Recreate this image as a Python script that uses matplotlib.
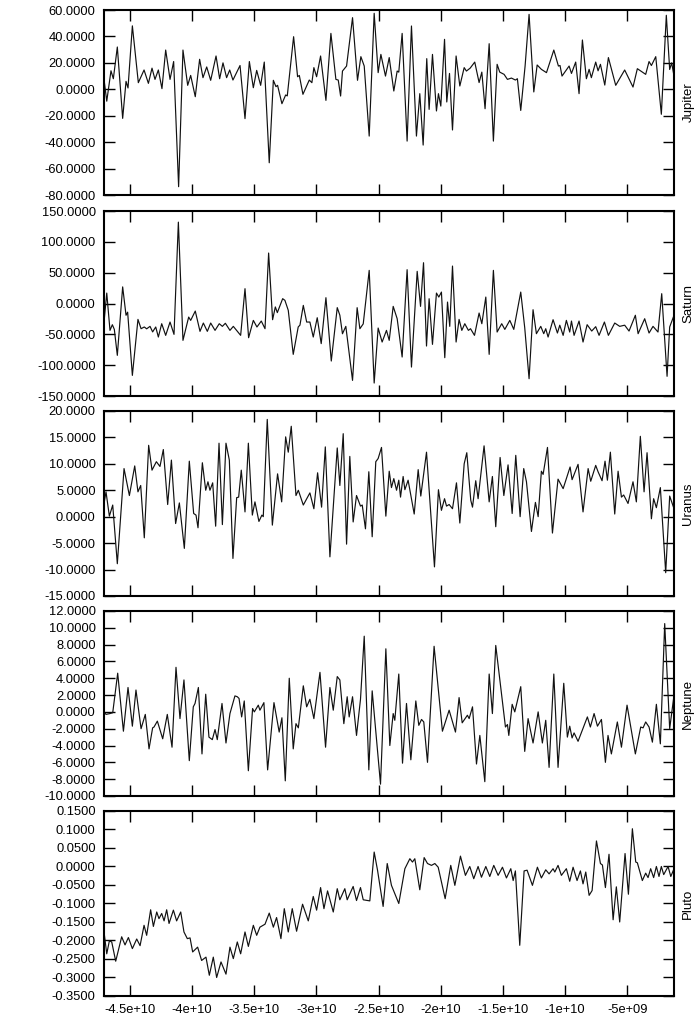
import matplotlib
matplotlib.use('Agg')
import matplotlib.pyplot as plt
import numpy as np

plt.rcParams['font.family'] = ['Liberation Sans', 'DejaVu Sans']

# x values in units of 1e9
jupiter_x = [-47.09, -46.87, -46.53, -46.34, -46.02, -45.59, -45.32, -45.16, -44.81, -44.33,
             -43.87, -43.52, -43.23, -42.99, -42.72, -42.43, -42.13, -41.78, -41.49, -41.09,
             -40.74, -40.36, -40.12, -39.75, -39.40, -39.13, -38.83, -38.51, -38.08, -37.79,
             -37.52, -37.23, -36.98, -36.72, -36.15, -35.75, -35.40, -35.08, -34.81, -34.49,
             -34.20, -33.80, -33.47, -33.26, -33.13, -32.78, -32.48, -32.35, -31.84, -31.52,
             -31.38, -31.09, -30.58, -30.37, -30.21, -29.99, -29.67, -29.24, -28.84, -28.44,
             -28.25, -28.06, -27.91, -27.58, -27.10, -26.70, -26.43, -26.16, -25.76, -25.36,
             -25.04, -24.82, -24.45, -24.15, -23.78, -23.51, -23.38, -23.11, -22.71, -22.36,
             -21.96, -21.69, -21.42, -21.13, -20.94, -20.67, -20.35, -20.19, -20.00, -19.70,
             -19.52, -19.30, -19.06, -18.77, -18.47, -18.12, -17.94, -17.64, -17.27, -16.92,
             -16.70, -16.44, -16.11, -15.77, -15.47, -15.26, -14.91, -14.64, -14.32, -14.00,
             -13.84, -13.57, -13.22, -12.90, -12.52, -12.25, -11.91, -11.50, -10.91, -10.54,
             -10.41, -10.25, -9.68, -9.49, -9.15, -8.88, -8.61, -8.29, -8.07, -7.89,
             -7.54, -7.35, -7.16, -6.81, -6.52, -5.93, -5.21, -4.54, -4.19, -3.52,
             -3.25, -3.06, -2.71, -2.26, -1.86, -1.59, -1.43, -1.24]
jupiter_y = [7.5, -9, 14, 8, 32, -22, 6, 1, 48, 5,
             14.6, 4.5, 16, 7.5, 14.6, 0.5, 29.7, 7.5, 21, -73.7,
             29.7, 3, 10.5, -5.6, 22.7, 8.8, 16.9, 6.8, 25.2, 8,
             20, 8.8, 14.6, 7, 18, -22.2, 21, 1.2, 14.3, 3,
             20.6, -55.6, 6.8, 2, 3, -10.9, -4.3, -5, 39.8, 9.5,
             10.5, -3.8, 7, 5, 16.4, 9.5, 25.2, -8.4, 42.3, 7.5,
             7, -5.1, 13.8, 17.6, 54.2, 6.8, 24.7, 17.6, -35.4, 57.5,
             12.6, 26.4, 10, 24, -1.3, 13.8, 13, 42.3, -39.2, 47.9,
             -35.4, -3.3, -42.2, 23.2, -15.2, 26.4, -16.4, -3.3, -12.7, 37.8,
             -9.6, 12, -30.8, 25.2, 2.5, 16.4, 13.8, 16, 20.6, 5.1,
             13, -14.7, 34.5, -39.2, 18.9, 13, 11.3, 7.5, 8.5, 7,
             8, -16, 17.6, 56.7, -2, 18.4, 15.1, 12.6, 29.7, 17.6,
             18, 10, 17.6, 12, 20.6, -3.3, 37.3, 8, 15.1, 8.8,
             20.6, 14, 18.9, 3.2, 24, 3, 14.6, 1.7, 15.6, 11.3,
             21, 18, 24.7, -18.9, 56, 15, 20, 10]

saturn_x = [-47.09, -46.87, -46.61, -46.42, -46.26, -46.02, -45.59, -45.32, -45.19, -44.81,
            -44.36, -44.11, -43.85, -43.66, -43.39, -43.18, -42.93, -42.72, -42.45, -42.13,
            -41.78, -41.46, -41.11, -40.74, -40.28, -40.12, -39.75, -39.37, -39.10, -38.78,
            -38.51, -38.16, -37.82, -37.57, -37.33, -36.96, -36.69, -36.10, -35.75, -35.46,
            -35.08, -34.79, -34.44, -34.14, -33.85, -33.53, -33.31, -33.15, -32.72, -32.54,
            -32.27, -31.87, -31.47, -31.33, -31.06, -30.79, -30.53, -30.26, -29.94, -29.62,
            -29.24, -28.81, -28.33, -28.12, -27.91, -27.64, -27.10, -26.73, -26.51, -26.24,
            -25.76, -25.36, -25.04, -24.72, -24.37, -24.15, -23.83, -23.51, -23.11, -22.71,
            -22.36, -21.90, -21.63, -21.39, -21.15, -20.94, -20.67, -20.35, -20.16, -19.95,
            -19.68, -19.46, -19.28, -19.06, -18.77, -18.53, -18.31, -18.07, -17.78, -17.61,
            -17.29, -16.92, -16.70, -16.38, -16.11, -15.77, -15.47, -15.10, -14.85, -14.45,
            -14.13, -13.57, -13.25, -12.90, -12.58, -12.31, -11.96, -11.72, -11.56, -11.37,
            -10.97, -10.62, -10.43, -10.16, -9.90, -9.63, -9.49, -9.28, -8.88, -8.56,
            -8.23, -7.86, -7.54, -7.27, -6.84, -6.52, -6.01, -5.61, -5.21, -4.86,
            -4.35, -4.13, -3.60, -3.25, -2.93, -2.53, -2.23, -1.80, -1.59, -1.24]
saturn_y = [-30, 17, -43.5, -34.3, -42, -84, 27, -19, -14, -116.5,
            -25.7, -40.8, -38, -41, -37, -46, -38, -54.3, -32.7, -51.6,
            -30, -50, 132, -59.7, -21.9, -27.3, -12.2, -45.1, -31.6, -45.1,
            -31.6, -43.5, -32.7, -37, -32, -43.5, -37, -51.6, 24.1, -55.4,
            -27.3, -38, -28.4, -40.8, 81.9, -26.2, -5.5, -14.7, 7.9, 5.2,
            -11, -82.4, -38, -35, -3, -30, -30, -54.3, -23, -65,
            9.5, -93.2, -6.6, -19, -49, -37, -124.6, -6.7, -40.8, -33,
            53.8, -128.9, -39.7, -62.4, -43.5, -59.7, -4.6, -24.6, -86.7, 54.9,
            -103, 52.2, -4.6, 66.2, -68.9, 7.8, -66.2, 17, 10.5, 18.6,
            -87.8, 2.4, -37, 60.8, -62.4, -25.7, -43.5, -32.7, -43.5, -40.8,
            -51.6, -15.4, -32.7, 10.5, -82.4, 53.8, -46.2, -32.7, -41.9, -27.3,
            -41.9, 18.6, -39.1, -121.9, -10, -48.9, -37, -48.9, -40.8, -54.3,
            -26.2, -47.8, -35.1, -51.6, -27.3, -46.2, -28.4, -51.6, -28.4, -62.4,
            -34.3, -44.6, -37.5, -51.6, -30, -51.6, -31.6, -37, -35.1, -44.6,
            -19, -48.9, -24.6, -47.8, -37, -46.2, 16, -118, -38, -19]

uranus_x = [-47.09, -46.93, -46.66, -46.39, -46.02, -45.48, -45.05, -44.62, -44.36, -44.14,
            -43.85, -43.50, -43.23, -42.88, -42.59, -42.32, -41.97, -41.67, -41.33, -41.03,
            -40.63, -40.23, -39.88, -39.69, -39.53, -39.18, -38.91, -38.73, -38.57, -38.35,
            -38.11, -37.84, -37.57, -37.28, -37.01, -36.72, -36.42, -36.26, -36.05, -35.75,
            -35.48, -35.16, -34.95, -34.63, -34.39, -34.28, -33.96, -33.55, -33.13, -32.80,
            -32.48, -32.27, -32.03, -31.65, -31.46, -31.06, -30.53, -30.21, -29.91, -29.59,
            -29.29, -28.92, -28.33, -28.12, -27.85, -27.58, -27.32, -27.05, -26.78, -26.46,
            -26.32, -26.06, -25.79, -25.52, -25.23, -25.04, -24.77, -24.42, -24.15, -23.97,
            -23.78, -23.56, -23.38, -23.24, -23.03, -22.89, -22.63, -22.14, -21.82, -21.61,
            -21.15, -20.51, -20.19, -19.95, -19.70, -19.54, -19.33, -19.06, -18.74, -18.47,
            -18.12, -17.91, -17.59, -17.45, -17.19, -17.00, -16.52, -16.11, -15.85, -15.58,
            -15.23, -14.93, -14.59, -14.26, -13.97, -13.62, -13.33, -13.11, -12.71, -12.39,
            -12.17, -11.91, -11.77, -11.42, -11.02, -10.57, -10.16, -9.60, -9.44, -8.96,
            -8.56, -8.15, -7.94, -7.54, -7.35, -7.03, -6.79, -6.60, -6.36, -6.01,
            -5.74, -5.47, -5.29, -4.94, -4.54, -4.27, -3.95, -3.65, -3.41, -3.06,
            -2.88, -2.66, -2.34, -1.91, -1.59, -1.24]
uranus_y = [2.5, 4.7, 0.1, 2.2, -8.9, 9.1, 4.0, 9.6, 4.7, 5.9,
            -4.0, 13.5, 8.8, 10.4, 9.5, 12.7, 2.3, 10.7, -1.3, 2.6,
            -6.0, 10.5, 0.6, 0.3, -2.1, 10.2, 5.0, 6.6, 5.0, 6.4,
            -1.8, 13.9, -1.5, 13.9, 10.7, -7.9, 3.6, 3.7, 8.8, 0.9,
            13.9, 0.3, 2.8, -0.9, 0.3, 0.0, 18.4, -1.6, 8.1, 2.8,
            15.1, 12.2, 17.1, 4.0, 5.0, 2.2, 4.5, 1.5, 8.3, 1.8,
            13.2, -7.6, 13.0, 5.9, 15.7, -5.2, 11.4, -1.0, 4.0, 2.0,
            2.2, -2.3, 8.5, -3.8, 10.4, 11.0, 13.1, 0.1, 8.6, 5.5,
            7.2, 5.0, 6.9, 3.7, 7.6, 5.1, 6.9, 0.5, 8.9, 3.9,
            12.2, -9.5, 5.1, 1.2, 3.4, 2.0, 2.3, 1.5, 6.4, -1.2,
            10.0, 12.1, 3.1, 1.8, 6.8, 3.4, 13.4, 2.8, 7.6, -1.9,
            11.2, 4.0, 9.8, 0.6, 11.6, 0.0, 9.1, 6.6, -2.8, 2.7,
            0.0, 8.6, 8.0, 13.1, -3.1, 7.1, 5.3, 9.4, 7.0, 9.9,
            0.9, 9.1, 6.7, 9.7, 8.5, 6.8, 10.5, 6.9, 12.2, 0.5,
            8.6, 3.7, 4.1, 2.5, 6.6, 2.8, 15.2, 4.7, 12.1, -0.4,
            3.4, 1.7, 5.5, -10.6, 3.9, 1.5]

neptune_x = [-47.09, -46.93, -46.61, -46.39, -45.99, -45.53, -45.16, -44.81, -44.52, -44.11,
             -43.77, -43.47, -43.18, -43.07, -42.80, -42.37, -42.00, -41.62, -41.30, -40.98,
             -40.66, -40.23, -39.91, -39.77, -39.50, -39.21, -38.91, -38.65, -38.38, -38.16,
             -37.98, -37.60, -37.28, -36.96, -36.56, -36.37, -36.23, -36.02, -35.81, -35.48,
             -35.14, -35.00, -34.68, -34.55, -34.23, -33.93, -33.42, -33.00, -32.78, -32.51,
             -32.19, -31.87, -31.65, -31.46, -31.06, -30.79, -30.53, -30.21, -29.72, -29.27,
             -28.92, -28.65, -28.33, -28.12, -27.80, -27.53, -27.37, -27.10, -26.78, -26.46,
             -26.16, -25.79, -25.52, -24.85, -24.42, -24.10, -23.83, -23.70, -23.38, -23.08,
             -22.76, -22.41, -22.01, -21.77, -21.55, -21.37, -21.07, -20.54, -19.87, -19.33,
             -18.82, -18.53, -18.28, -17.86, -17.72, -17.45, -17.13, -16.86, -16.46, -16.11,
             -15.85, -15.58, -14.80, -14.64, -14.53, -14.26, -14.05, -13.57, -13.25, -12.98,
             -12.58, -12.17, -11.83, -11.56, -11.29, -10.91, -10.57, -10.11, -9.82, -9.63,
             -9.44, -9.28, -8.96, -8.21, -7.97, -7.67, -7.40, -7.08, -6.76, -6.55,
             -6.28, -5.80, -5.47, -5.02, -4.35, -3.92, -3.73, -3.52, -3.25, -2.98,
             -2.66, -2.34, -1.99, -1.59, -1.24]
neptune_y = [0, -0.3, -0.2, -0.1, 4.6, -2.3, 2.9, -1.7, 2.6, -2.0,
             -0.3, -4.4, -1.9, -1.8, -1.1, -3.2, -0.3, -4.2, 5.3, -0.8,
             3.8, -5.8, 0.6, 1.0, 2.9, -5.0, 2.1, -3.0, -3.3, -2.1,
             -3.3, 1.0, -3.7, -0.2, 1.9, 1.8, 1.6, -0.6, 1.3, -7.0,
             0.4, 0, 0.8, 0.2, 1.1, -6.9, 1.1, -2.4, -0.7, -8.2,
             4.0, -4.4, -1.4, -1.9, 3.1, 0.6, 1.5, -0.8, 4.7, -4.2,
             2.9, 0.2, 4.2, 3.8, -1.4, 1.8, -0.6, 1.8, -2.8, 1.5,
             9.0, -6.9, 2.5, -8.6, 7.5, -4.0, -0.2, -1.0, 4.5, -6.1,
             1.0, -5.7, 1.3, -1.6, -0.9, -1.2, -6.0, 7.8, -2.3, 0.2,
             -2.4, 1.7, -1.3, -0.4, -0.8, 0.6, -6.2, -2.8, -8.3, 4.5,
             -0.2, 7.9, -1.8, -1.5, -2.8, 0.9, 0.0, 3.0, -4.7, -0.8,
             -3.7, 0, -3.7, -1.0, -6.6, 4.5, -6.6, 3.4, -3.0, -1.7,
             -3.1, -2.5, -3.5, -0.6, -1.8, -0.2, -1.7, -0.9, -6.0, -2.8,
             -5.0, -1.2, -4.2, 0.8, -5.0, -1.8, -1.9, -1.2, -1.8, -3.6,
             0.9, -3.8, 10.5, -2.0, 2.0]

pluto_x = [-47.09, -46.87, -46.66, -46.47, -46.15, -45.67, -45.40, -45.13, -44.81, -44.46,
           -44.19, -43.87, -43.66, -43.34, -43.12, -42.85, -42.67, -42.45, -42.26, -42.05,
           -41.86, -41.51, -41.25, -40.92, -40.66, -40.39, -40.17, -39.96, -39.56, -39.24,
           -38.89, -38.62, -38.30, -38.03, -37.68, -37.28, -36.96, -36.69, -36.37, -36.10,
           -35.75, -35.48, -35.08, -34.81, -34.55, -34.14, -33.80, -33.47, -33.21, -32.86,
           -32.59, -32.27, -31.95, -31.60, -31.12, -30.66, -30.26, -29.99, -29.67, -29.40,
           -29.11, -28.65, -28.33, -28.12, -27.72, -27.53, -27.05, -26.78, -26.46, -26.24,
           -25.71, -25.36, -25.09, -24.64, -24.31, -23.97, -23.38, -22.89, -22.49, -22.28,
           -22.09, -21.69, -21.34, -21.07, -20.75, -20.48, -20.21, -19.65, -19.20, -18.87,
           -18.42, -18.02, -17.67, -17.35, -17.00, -16.73, -16.38, -16.06, -15.74, -15.39,
           -15.04, -14.72, -14.37, -14.18, -14.00, -13.65, -13.30, -13.06, -12.63, -12.23,
           -11.91, -11.56, -11.29, -10.97, -10.83, -10.57, -10.30, -9.90, -9.63, -9.36,
           -9.04, -8.77, -8.56, -8.34, -8.07, -7.83, -7.48, -7.16, -7.00, -6.76,
           -6.47, -6.14, -5.88, -5.61, -5.18, -4.91, -4.59, -4.32, -4.19, -3.79,
           -3.52, -3.33, -3.12, -2.88, -2.66, -2.45, -2.26, -2.07, -1.72, -1.50,
           -1.24]
pluto_y = [-0.177, -0.236, -0.201, -0.204, -0.256, -0.190, -0.212, -0.192, -0.222, -0.196,
           -0.214, -0.159, -0.186, -0.117, -0.162, -0.123, -0.141, -0.127, -0.147, -0.117,
           -0.154, -0.118, -0.147, -0.123, -0.177, -0.195, -0.193, -0.231, -0.218, -0.254,
           -0.245, -0.294, -0.245, -0.300, -0.258, -0.291, -0.218, -0.249, -0.204, -0.236,
           -0.177, -0.216, -0.159, -0.186, -0.164, -0.156, -0.126, -0.164, -0.138, -0.195,
           -0.114, -0.177, -0.114, -0.175, -0.102, -0.147, -0.081, -0.118, -0.057, -0.114,
           -0.066, -0.123, -0.060, -0.090, -0.060, -0.090, -0.054, -0.092, -0.057, -0.090,
           -0.093, 0.039, -0.010, -0.108, 0.008, -0.051, -0.100, -0.006, 0.021, 0.012,
           0.021, -0.063, 0.024, 0.008, 0.003, 0.008, -0.002, -0.087, 0.003, -0.051,
           0.028, -0.024, 0.000, -0.033, 0.000, -0.029, 0.000, -0.027, 0.003, -0.024,
           -0.002, -0.031, -0.006, -0.038, -0.012, -0.213, -0.012, -0.010, -0.051, -0.002,
           -0.031, -0.009, -0.020, -0.006, -0.015, 0.003, -0.024, -0.006, -0.040, -0.002,
           -0.038, -0.012, -0.047, -0.015, -0.078, -0.065, 0.069, 0.008, 0.004, -0.057,
           0.033, -0.144, -0.055, -0.150, 0.035, -0.075, 0.102, 0.012, 0.010, -0.038,
           -0.018, -0.030, -0.006, -0.030, 0.000, -0.027, 0.000, -0.022, 0.000, -0.027,
           -0.006]

names = ['Jupiter', 'Saturn', 'Uranus', 'Neptune', 'Pluto']
series_x = [jupiter_x, saturn_x, uranus_x, neptune_x, pluto_x]
series_y = [jupiter_y, saturn_y, uranus_y, neptune_y, pluto_y]
y_ticks = [np.arange(-80, 61, 20), np.arange(-150, 151, 50), np.arange(-15, 21, 5),
           np.arange(-10, 13, 2), np.round(np.arange(-0.35, 0.151, 0.05), 2)]
x_ticks = [-4.5e10, -4e10, -3.5e10, -3e10, -2.5e10, -2e10, -1.5e10, -1e10, -5e9]

fig = plt.figure(figsize=(7, 10.21), dpi=100)
left, width, height = 0.1486, 0.8143, 0.1812
bottoms = [0.809, 0.6121, 0.4163, 0.2204, 0.0245]

for i, name in enumerate(names):
    ax = fig.add_axes([left, bottoms[i], width, height])
    x = np.array(series_x[i]) * 1e9
    ax.plot(x, series_y[i], color='#111111', linewidth=0.85)
    ax.set_xlim(x[0], x[-1])
    ax.set_ylim(y_ticks[i][0], y_ticks[i][-1])
    ax.set_yticks(y_ticks[i])
    ax.set_yticklabels(['%.4f' % v if abs(v) > 1e-12 else '0.0000' for v in y_ticks[i]])
    ax.set_xticks(x_ticks)
    if i == len(names) - 1:
        ax.set_xticklabels(['%g' % v for v in x_ticks])
    else:
        ax.set_xticklabels([])
    ax.tick_params(direction='in', length=8, width=1, top=True, right=True,
                   labelsize=9.3)
    ax.tick_params(axis='y', pad=6)
    ax.tick_params(axis='x', pad=6)
    for s in ax.spines.values():
        s.set_linewidth(1.5)
    ax.yaxis.set_label_position('right')
    ax.set_ylabel(name, fontsize=9.5, labelpad=6)

fig.savefig('out.png', dpi=100)
